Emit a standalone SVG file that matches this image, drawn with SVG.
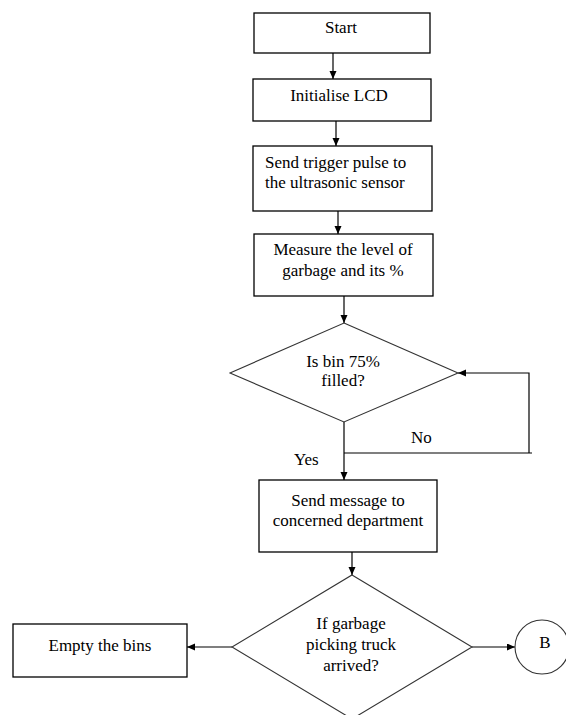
<svg xmlns="http://www.w3.org/2000/svg" width="566" height="715" viewBox="0 0 566 715" font-family="'Liberation Serif', 'Times New Roman', serif" font-size="17">
<defs>
<style>
.box{fill:#fff;stroke:#000;stroke-width:1.3}
.dia{fill:#fff;stroke:#333;stroke-width:1.1}
.t{fill:#000;text-anchor:middle}
.tl{fill:#000}
.c{fill:none;stroke:#000;stroke-width:1.2}
</style>
<marker id="ah" markerUnits="userSpaceOnUse" markerWidth="9" markerHeight="8" refX="8" refY="3.5" orient="auto">
<path d="M0,0 L8,3.5 L0,7 z" fill="#000"/>
</marker>
</defs>
<rect width="566" height="715" fill="#fff"/>
<g id="connectors">
<line class="c" x1="333" y1="53" x2="333" y2="79" marker-end="url(#ah)"/>
<line class="c" x1="336" y1="121" x2="336" y2="146" marker-end="url(#ah)"/>
<line class="c" x1="338" y1="211" x2="338" y2="234" marker-end="url(#ah)"/>
<line class="c" x1="344" y1="296" x2="344" y2="323" marker-end="url(#ah)"/>
<line class="c" x1="344" y1="422" x2="344" y2="480" marker-end="url(#ah)"/>
<line class="c" x1="344" y1="453" x2="532" y2="453"/>
<polyline class="c" points="529,453 529,373 458,373" marker-end="url(#ah)"/>
<line class="c" x1="352" y1="552" x2="352" y2="575" marker-end="url(#ah)"/>
<line class="c" x1="232" y1="647" x2="187" y2="647" marker-end="url(#ah)"/>
<line class="c" x1="472" y1="647" x2="515" y2="647" marker-end="url(#ah)"/>
<text class="tl" x="411" y="443">No</text>
<text class="tl" x="294" y="465">Yes</text>
</g>
<g id="start">
<rect class="box" x="254" y="13" width="176" height="40"/>
<text class="t" x="341" y="33">Start</text>
</g>
<g id="init-lcd">
<rect class="box" x="253" y="79" width="178" height="42"/>
<text class="t" x="339" y="101">Initialise LCD</text>
</g>
<g id="trigger">
<rect class="box" x="253" y="146" width="179" height="65"/>
<text class="tl" x="265" y="168">Send trigger pulse to</text>
<text class="tl" x="265" y="188">the ultrasonic sensor</text>
</g>
<g id="measure">
<rect class="box" x="254" y="234" width="179" height="62"/>
<text class="t" x="343" y="255">Measure the level of</text>
<text class="t" x="343" y="276">garbage and its %</text>
</g>
<g id="bin-filled">
<polygon class="dia" points="344,323 458,373 344,422 230,373"/>
<text class="t" x="343" y="367">Is bin 75%</text>
<text class="t" x="343" y="386">filled?</text>
</g>
<g id="send-message">
<rect class="box" x="259" y="480" width="178" height="72"/>
<text class="t" x="348" y="506">Send message to</text>
<text class="t" x="348" y="526">concerned department</text>
</g>
<g id="truck-arrived">
<polygon class="dia" points="352,575 472,647 352,719 232,647"/>
<text class="t" x="351" y="629">If garbage</text>
<text class="t" x="351" y="650">picking truck</text>
<text class="t" x="351" y="671">arrived?</text>
</g>
<g id="empty-bins">
<rect class="box" x="13" y="624" width="174" height="53"/>
<text class="t" x="100" y="651">Empty the bins</text>
</g>
<g id="connector-b">
<circle class="dia" cx="542" cy="647" r="27"/>
<text class="t" x="545" y="648">B</text>
</g>
</svg>
